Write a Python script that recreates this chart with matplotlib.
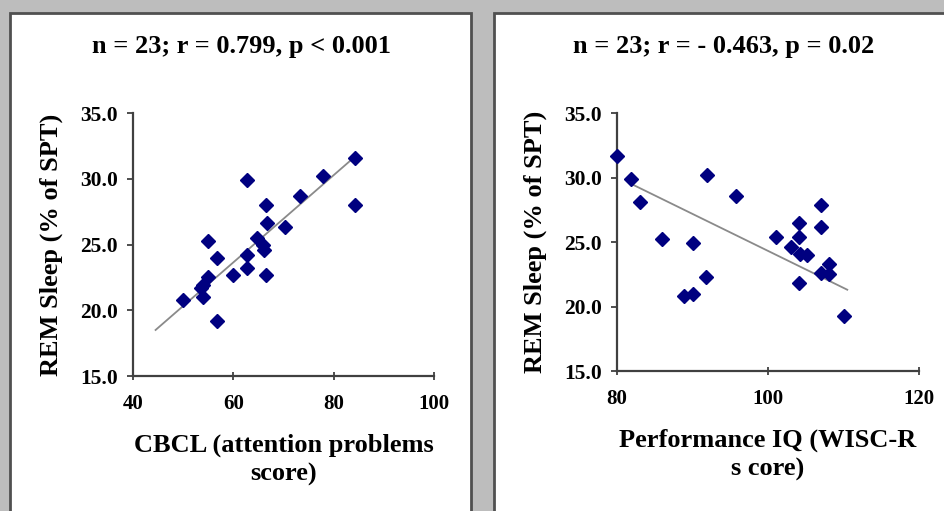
import numpy as np
import matplotlib
matplotlib.use("Agg")
import matplotlib.pyplot as plt
from matplotlib.patches import Rectangle

plt.rcParams.update({"font.family": "Liberation Serif", "font.weight": "bold",
                     "axes.labelweight": "bold"})

# ---- data
cbcl = [84.3, 77.9, 62.7, 73.2, 66.6, 84.3, 66.8, 70.2, 55.0, 64.8, 65.9,
        66.1, 56.8, 62.8, 62.8, 59.9, 66.6, 55.0, 54.0, 53.5, 49.9, 53.9, 56.8]
rem_left = [31.6, 30.2, 29.9, 28.7, 28.0, 28.0, 26.6, 26.3, 25.3, 25.5, 25.0,
            24.6, 24.0, 24.2, 23.2, 22.7, 22.7, 22.5, 21.9, 21.7, 20.8, 21.0, 19.2]
trend_left_x = [44.5, 84.3]
trend_left_y = [18.5, 31.7]

piq = [80.0, 81.9, 83.0, 91.9, 95.8, 86.0, 90.0, 91.8, 88.9, 90.1, 101.1,
       104.1, 104.1, 107.0, 107.0, 103.1, 104.2, 105.1, 108.1, 107.0, 108.1,
       104.1, 110.1]
rem_right = [31.7, 29.9, 28.1, 30.2, 28.6, 25.2, 24.9, 22.3, 20.8, 21.0, 25.4,
             26.5, 25.4, 27.9, 26.2, 24.6, 24.1, 24.0, 23.3, 22.6, 22.5,
             21.8, 19.3]
trend_right_x = [81.9, 110.5]
trend_right_y = [29.5, 21.3]

titles = ["n = 23; r = 0.799, p < 0.001", "n = 23; r = - 0.463, p = 0.02"]
xlabels = ["CBCL (attention problems\nscore)", "Performance IQ (WISC-R\ns core)"]
ylabel = "REM Sleep (% of SPT)"
yticks = [15.0, 20.0, 25.0, 30.0, 35.0]
xticks_left = [40, 60, 80, 100]
xticks_right = [80, 100, 120]

W, H = 945, 511
fig = plt.figure(figsize=(W / 100, H / 100), dpi=100)
fig.patch.set_facecolor("#bdbdbd")

# white panels with dark frame
for x0, x1 in [(10, 471), (494, 950)]:
    fig.patches.append(Rectangle((x0 / W, -0.02), (x1 - x0) / W, 1 - 13 / H + 0.02,
                                 transform=fig.transFigure, facecolor="white",
                                 edgecolor="#505050", lw=2.0, zorder=-5))

NAVY = "#000080"
panels = [
    (cbcl, rem_left, trend_left_x, trend_left_y, xticks_left, (40, 100),
     [133 / W, 1 - 376 / H, 301 / W, 263 / H], 241),
    (piq, rem_right, trend_right_x, trend_right_y, xticks_right, (80, 120),
     [617 / W, 1 - 371 / H, 302 / W, 258 / H], 724),
]
for k, (xs, ys, tx, ty, xt, xl, rect, tcx) in enumerate(panels):
    ax = fig.add_axes(rect, zorder=2)
    ax.set_facecolor("none")
    ax.plot(tx, ty, color="#8a8a8a", lw=1.3, zorder=2)
    ax.plot(xs, ys, ls="none", marker="D", ms=7, color=NAVY, mec=NAVY,
            zorder=3, clip_on=False)
    ax.set_xlim(*xl); ax.set_ylim(15, 35)
    ax.set_xticks(xt)
    ax.set_xticklabels([str(v) for v in xt])
    ax.set_yticks(yticks)
    ax.set_yticklabels([f"{v:.1f}" for v in yticks])
    for s in ["top", "right"]:
        ax.spines[s].set_visible(False)
    for s in ["left", "bottom"]:
        ax.spines[s].set_color("#404040"); ax.spines[s].set_linewidth(1.6)
    ax.tick_params(axis="y", direction="out", length=4, width=1.3,
                   color="#404040", labelsize=15.5, pad=7)
    ax.tick_params(axis="x", direction="inout", length=6, width=1.3,
                   color="#404040", labelsize=15, pad=10)
    ax.set_xlabel(xlabels[k], fontsize=19, labelpad=14, linespacing=1.3)
    ax.set_ylabel(ylabel, fontsize=19, labelpad=12)
    fig.text(tcx / W, 1 - 46 / H, titles[k], ha="center", va="center",
             fontsize=19, weight="bold", zorder=3)

fig.savefig("out.png", dpi=100, facecolor=fig.get_facecolor())
